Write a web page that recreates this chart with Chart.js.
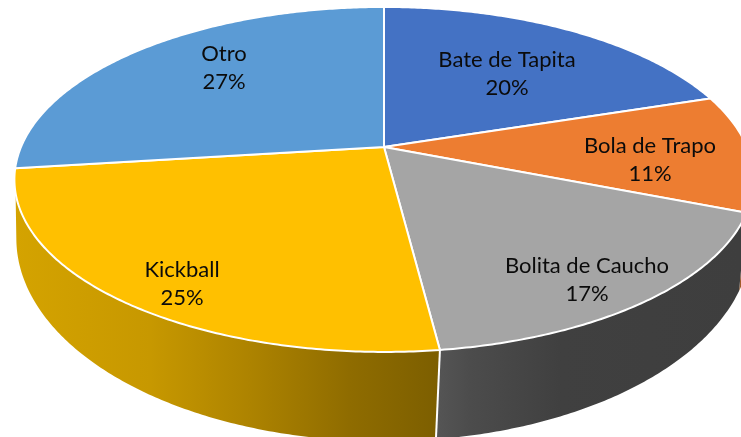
<!DOCTYPE html>
<html>
<head>
<meta charset="utf-8">
<script src="https://cdn.jsdelivr.net/npm/chart.js@4/dist/chart.umd.min.js"></script>
<style>
  html, body { margin: 0; padding: 0; background: #fff; }
  canvas { display: block; }
</style>
</head>
<body>
<canvas id="pie" width="741" height="437"></canvas>
<script>
const categories = ['Bate de Tapita', 'Bola de Trapo', 'Bolita de Caucho', 'Kickball', 'Otro'];
const shares = [20, 11, 17, 25, 27];

const sliceColors = ['#4472c4', '#ed7d31', '#a5a5a5', '#ffc000', '#5b9bd5'];
// label centre per slice, between the two text lines
const labelCentres = [[507, 74], [650, 160], [587, 280], [182, 284], [224, 68]];

// perspective of the top face and of the hidden bottom face of the disc
const topFace = { cx: 384, cy: 147, a: 363, b: 166.4, k: 0.188 };
const bottomFace = { cx: 384, cy: 214, a: 365, b: 200, k: 0.12 };

function project(face, angle) {
    const u = Math.cos(angle), v = Math.sin(angle);
    const d = 1 - face.k * v;
    return [face.cx + face.a * u / d, face.cy + face.b * v / d];
}

function traceRim(ctx, face, from, to, first) {
    const steps = Math.max(2, Math.ceil(Math.abs(to - from) / 0.01));
    for (let i = 0; i <= steps; i++) {
        const p = project(face, from + (to - from) * i / steps);
        if (i === 0 && first) ctx.moveTo(p[0], p[1]);
        else ctx.lineTo(p[0], p[1]);
    }
}

function wallFill(ctx, index) {
    const g = ctx.createLinearGradient(16, 0, 741, 0);
    if (index === 3) {
        g.addColorStop(0, '#d4a300');
        g.addColorStop(0.185, '#c79800');
        g.addColorStop(0.323, '#ad8300');
        g.addColorStop(0.46, '#8f6c00');
        g.addColorStop(0.58, '#7d5f00');
        g.addColorStop(1, '#7d5f00');
        return g;
    }
    if (index === 2) {
        g.addColorStop(0, '#555555');
        g.addColorStop(0.58, '#555555');
        g.addColorStop(0.626, '#4c4c4c');
        g.addColorStop(0.75, '#404040');
        g.addColorStop(1, '#3e3e3e');
        return g;
    }
    return index === 1 ? '#a05a28' : '#fff';
}

const discPlugin = {
    id: 'disc',
    beforeDatasetDraw(chart, args) {
        const ctx = chart.ctx;
        const arcs = args.meta.data;

        // side walls first, the top face covers whatever is behind
        [1, 2, 3].forEach(i => {
            const s = arcs[i].startAngle, e = arcs[i].endAngle;
            ctx.beginPath();
            traceRim(ctx, topFace, s, e, true);
            traceRim(ctx, bottomFace, e, s, false);
            ctx.closePath();
            ctx.fillStyle = wallFill(ctx, i);
            ctx.fill();
        });

        // seam between the yellow and grey walls
        const seam = arcs[3].startAngle;
        const a = project(topFace, seam), b = project(bottomFace, seam);
        ctx.beginPath();
        ctx.moveTo(a[0], a[1]);
        ctx.lineTo(b[0], b[1]);
        ctx.strokeStyle = '#fff';
        ctx.lineWidth = 2;
        ctx.stroke();

        arcs.forEach((arc, i) => {
            ctx.beginPath();
            ctx.moveTo(topFace.cx, topFace.cy);
            traceRim(ctx, topFace, arc.startAngle, arc.endAngle, false);
            ctx.closePath();
            ctx.fillStyle = sliceColors[i];
            ctx.fill();
            ctx.strokeStyle = '#fff';
            ctx.lineWidth = 2;
            ctx.lineJoin = 'round';
            ctx.stroke();
        });
        return false;
    },
    afterDatasetsDraw(chart) {
        const ctx = chart.ctx;
        const total = shares.reduce((t, n) => t + n, 0);
        ctx.save();
        ctx.fillStyle = '#0b0b0b';
        ctx.font = '22px Lato';
        ctx.textAlign = 'center';
        ctx.textBaseline = 'middle';
        categories.forEach((name, i) => {
            const c = labelCentres[i];
            ctx.fillText(name, c[0], c[1] - 14);
            ctx.fillText(Math.round(shares[i] / total * 100) + '%', c[0], c[1] + 14);
        });
        ctx.restore();
    }
};

new Chart(document.getElementById('pie').getContext('2d'), {
    type: 'pie',
    data: {
        labels: categories,
        datasets: [{ data: shares, backgroundColor: sliceColors, borderColor: '#fff' }]
    },
    options: {
        responsive: false,
        animation: false,
        layout: { padding: 0 },
        plugins: { legend: { display: false }, tooltip: { enabled: false } }
    },
    plugins: [discPlugin]
});
</script>
</body>
</html>
